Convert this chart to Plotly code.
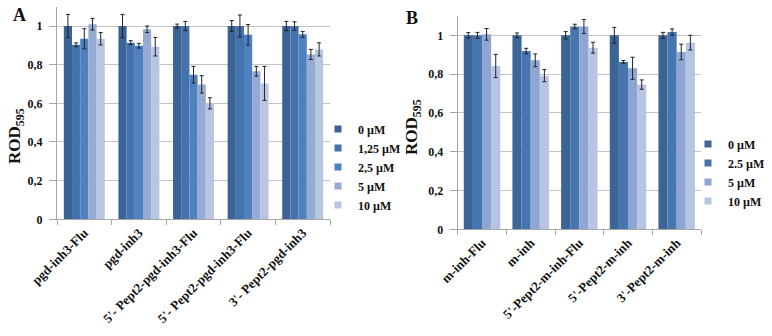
import plotly.graph_objects as go

# ---------------- data ----------------
cats_a = ["pgd-inh3-Flu", "pgd-inh3", "5'- Pept2-pgd-inh3-Flu (i)", "5'- Pept2-pgd-inh3-Flu (ii)", "3'- Pept2-pgd-inh3"]
ticktext_a = ["pgd-inh3-Flu", "pgd-inh3", "5'- Pept2-pgd-inh3-Flu", "5'- Pept2-pgd-inh3-Flu", "3'- Pept2-pgd-inh3"]
series_a = ["0 µM", "1,25 µM", "2,5 µM", "5 µM", "10 µM"]
vals_a_0 = [1.000, 1.000, 1.000, 1.000, 1.000]
vals_a_1 = [0.903, 0.914, 1.000, 1.000, 1.000]
vals_a_2 = [0.934, 0.898, 0.748, 0.955, 0.957]
vals_a_3 = [1.009, 0.983, 0.698, 0.766, 0.853]
vals_a_4 = [0.934, 0.893, 0.600, 0.703, 0.879]
err_a_0 = [0.060, 0.060, 0.010, 0.028, 0.024]
err_a_1 = [0.010, 0.010, 0.024, 0.057, 0.022]
err_a_2 = [0.052, 0.012, 0.043, 0.053, 0.015]
err_a_3 = [0.030, 0.017, 0.045, 0.025, 0.026]
err_a_4 = [0.032, 0.048, 0.029, 0.088, 0.034]

cats_b = ["m-inh-Flu", "m-inh", "5'-Pept2-m-inh-Flu", "5'-Pept2-m-inh", "3'-Pept2-m-inh"]
series_b = ["0 µM", "2.5 µM", "5 µM", "10 µM"]
vals_b_0 = [1.000, 1.000, 1.000, 1.000, 1.000]
vals_b_1 = [1.000, 0.919, 1.045, 0.863, 1.017]
vals_b_2 = [1.005, 0.871, 1.045, 0.830, 0.914]
vals_b_3 = [0.842, 0.792, 0.936, 0.746, 0.962]
err_b_0 = [0.014, 0.012, 0.019, 0.041, 0.015]
err_b_1 = [0.015, 0.014, 0.012, 0.007, 0.016]
err_b_2 = [0.030, 0.033, 0.036, 0.057, 0.040]
err_b_3 = [0.060, 0.031, 0.028, 0.024, 0.038]

y_tickvals = [0, 0.2, 0.4, 0.6, 0.8, 1.0]
y_ticktext = ["0", "0,2", "0,4", "0,6", "0,8", "1"]

colors_a = ["#3a6396", "#4472ad", "#4f81c0", "#95abd4", "#b8c6e3"]
colors_b = ["#3b6497", "#4675b0", "#8fa6d2", "#b7c5e2"]

FONT = "Liberation Serif"
INK = "#111111"
W, H = 772, 336

fig = go.Figure()

vals_a = [vals_a_0, vals_a_1, vals_a_2, vals_a_3, vals_a_4]
errs_a = [err_a_0, err_a_1, err_a_2, err_a_3, err_a_4]
for name, v, e, c in zip(series_a, vals_a, errs_a, colors_a):
    fig.add_trace(go.Bar(x=cats_a, y=v, name=name, marker=dict(color=c, line=dict(width=0)),
                         error_y=dict(type="data", array=e, color="#222222", thickness=1, width=2),
                         xaxis="x", yaxis="y", showlegend=False))
    fig.add_trace(go.Scatter(x=[None], y=[None], mode="markers", name=name,
                             marker=dict(symbol="square", size=7, color=c),
                             xaxis="x", yaxis="y", legend="legend"))

vals_b = [vals_b_0, vals_b_1, vals_b_2, vals_b_3]
errs_b = [err_b_0, err_b_1, err_b_2, err_b_3]
for name, v, e, c in zip(series_b, vals_b, errs_b, colors_b):
    fig.add_trace(go.Bar(x=cats_b, y=v, name=name, marker=dict(color=c, line=dict(width=0)),
                         error_y=dict(type="data", array=e, color="#222222", thickness=1, width=2),
                         xaxis="x2", yaxis="y2", showlegend=False))
    fig.add_trace(go.Scatter(x=[None], y=[None], mode="markers", name=name,
                             marker=dict(symbol="square", size=7, color=c),
                             xaxis="x2", yaxis="y2", legend="legend2"))


def px_x(p):
    return p / W


def px_y(p):
    return 1 - p / H


xfont = dict(family=FONT, size=13, color=INK, weight="bold")
yfont = dict(family=FONT, size=12, color=INK, weight="bold")
lfont = dict(family=FONT, size=12, color=INK, weight="bold")

xcommon = dict(type="category", tickson="boundaries", tickangle=-45, showgrid=False,
               showline=True, linecolor="#a6a6a6", linewidth=1, ticks="outside",
               tickcolor="#a6a6a6", ticklen=5, tickfont=xfont, automargin=False)
ycommon = dict(range=[0, 1.1], tickmode="array", tickvals=y_tickvals, ticktext=y_ticktext,
               showgrid=True, gridcolor="#c4c4c4", gridwidth=1, zeroline=False,
               showline=True, linecolor="#a6a6a6", linewidth=1, ticks="outside",
               tickcolor="#a6a6a6", ticklen=7, ticklabelstandoff=4, tickfont=yfont,
               automargin=False)

fig.update_layout(
    width=W, height=H, margin=dict(l=0, r=0, t=0, b=0, autoexpand=False),
    paper_bgcolor="white", plot_bgcolor="white",
    font=dict(family=FONT, color=INK, weight="bold"),
    barmode="group", bargap=0.25, bargroupgap=0,
    xaxis=dict(domain=[px_x(57), px_x(330)], anchor="y",
               tickmode="array", tickvals=cats_a, ticktext=ticktext_a, **xcommon),
    yaxis=dict(domain=[px_y(219.3), px_y(6.7)], anchor="x", **ycommon),
    xaxis2=dict(domain=[px_x(457.7), px_x(701)], anchor="y2", **xcommon),
    yaxis2=dict(domain=[px_y(229.3), px_y(15.9)], anchor="x2", **ycommon),
    legend=dict(x=px_x(318), y=px_y(114.5), xanchor="left", yanchor="top",
                font=lfont, bgcolor="rgba(0,0,0,0)", itemwidth=30, tracegroupgap=0),
    legend2=dict(x=px_x(688), y=px_y(129.5), xanchor="left", yanchor="top",
                 font=lfont, bgcolor="rgba(0,0,0,0)", itemwidth=30, tracegroupgap=0),
    annotations=[
        dict(text="A", x=px_x(19), y=px_y(15), xref="paper", yref="paper", showarrow=False,
             xanchor="center", yanchor="middle",
             font=dict(family=FONT, size=18, color=INK, weight="bold")),
        dict(text="B", x=px_x(411.5), y=px_y(17.5), xref="paper", yref="paper", showarrow=False,
             xanchor="center", yanchor="middle",
             font=dict(family=FONT, size=18, color=INK, weight="bold")),
        dict(text="ROD<sub>595</sub>", x=px_x(16), y=px_y(136), xref="paper", yref="paper",
             showarrow=False, textangle=-90, xanchor="center", yanchor="middle",
             font=dict(family=FONT, size=17, color=INK, weight="bold")),
        dict(text="ROD<sub>595</sub>", x=px_x(413), y=px_y(127), xref="paper", yref="paper",
             showarrow=False, textangle=-90, xanchor="center", yanchor="middle",
             font=dict(family=FONT, size=17, color=INK, weight="bold")),
    ],
)

# remove the browser's default 8px body margin so the figure fills the window exactly
fig.write_html("out.html", config={"displayModeBar": False},
               post_script="document.body.style.margin='0';")
